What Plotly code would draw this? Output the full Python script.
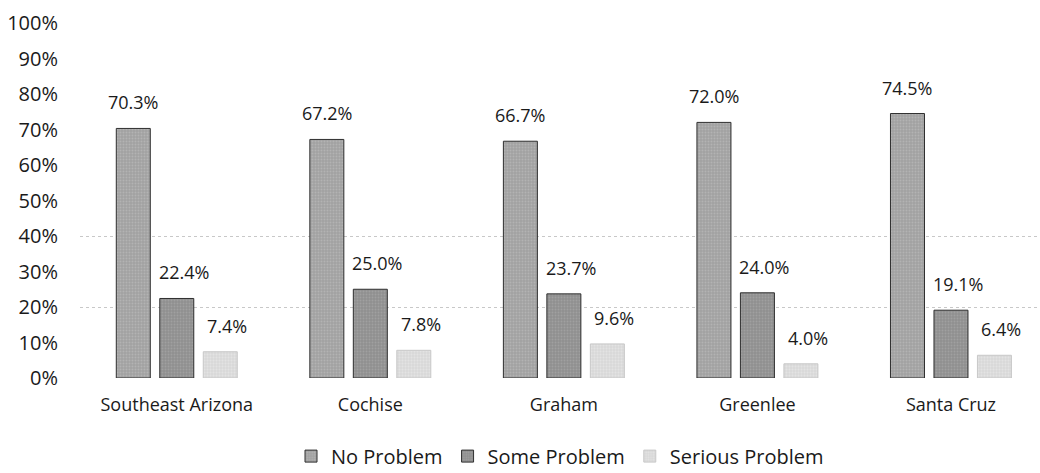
import plotly.graph_objects as go

categories = ["Southeast Arizona", "Cochise", "Graham", "Greenlee", "Santa Cruz"]
no_problem = [70.3, 67.2, 66.7, 72.0, 74.5]
some_problem = [22.4, 25.0, 23.7, 24.0, 19.1]
serious_problem = [7.4, 7.8, 9.6, 4.0, 6.4]
series_names = ["No Problem", "Some Problem", "Serious Problem"]
tick_vals = [0, 10, 20, 30, 40, 50, 60, 70, 80, 90, 100]
tick_text = [f"{v}%" for v in tick_vals]
grid_vals = [20, 40]

fills = ["#a2a2a2", "#909090", "#d9d9d9"]
outlines = ["#2e2e2e", "#2e2e2e", "#c8c8c8"]
pattern_fg = ["#c4c4c4", "#b0b0b0", "#eeeeee"]
label_xshift = [0, 7, 7]

L, R, T, B = 80, 0, 23, 95
W, H = 1040, 473
x_range = [-0.5, 4.46]
bargap, bargroupgap = 0.326, 0.218
unit_px = (W - L - R) / (x_range[1] - x_range[0])
slot_px = unit_px * (1 - bargap) / 3

fig = go.Figure()
# carrier for the faint dotted gridlines (only those visible in the reference)
fig.add_trace(go.Scatter(x=[categories[0]], y=[None], yaxis="y2", showlegend=False,
                         hoverinfo="skip", mode="markers"))

series_vals = [no_problem, some_problem, serious_problem]
for i, (name, vals) in enumerate(zip(series_names, series_vals)):
    fig.add_trace(go.Bar(
        x=categories, y=vals, name=name,
        marker=dict(color=fills[i], line=dict(color=outlines[i], width=1),
                    pattern=dict(shape=".", fgcolor=pattern_fg[i], size=3, solidity=0.3)),
    ))
    for c, v in zip(categories, vals):
        fig.add_annotation(
            x=c, y=v, text=f"{v:.1f}%", showarrow=False,
            xanchor="center", yanchor="bottom",
            xshift=(i - 1) * slot_px + label_xshift[i], yshift=12,
            font=dict(size=18, color="#1a1a1a", family="Open Sans"),
        )

fig.update_layout(
    width=W, height=H,
    margin=dict(l=L, r=R, t=T, b=B, autoexpand=False),
    paper_bgcolor="white", plot_bgcolor="white",
    barmode="group", bargap=bargap, bargroupgap=bargroupgap,
    font=dict(family="Open Sans", size=18, color="#1a1a1a"),
    showlegend=True,
    legend=dict(orientation="h", x=0.5, xanchor="center", y=-0.22, yanchor="middle",
                font=dict(size=20), traceorder="normal", itemwidth=30),
    xaxis=dict(type="category", categoryorder="array", categoryarray=categories,
               showgrid=False, showline=False, ticks="", tickfont=dict(size=18),
               range=x_range, automargin=False, ticklabelstandoff=14),
    yaxis=dict(range=[0, 100], tickvals=tick_vals, ticktext=tick_text,
               showgrid=False, zeroline=False, showline=False, ticks="",
               tickfont=dict(size=20), ticklabelstandoff=21, automargin=False),
    yaxis2=dict(range=[0, 100], overlaying="y", tickvals=grid_vals, showticklabels=False,
                showgrid=True, gridcolor="#c8c8c8", griddash="dot", gridwidth=1,
                zeroline=False, showline=False, ticks="", automargin=False),
)

fig.write_html("out.html", config={"displayModeBar": False})

# remove the browser's default 8px page margin so the figure fills the window
with open("out.html", "r", encoding="utf-8") as f:
    html = f.read()
html = html.replace("<body>", '<body style="margin:0;padding:0;overflow:hidden">', 1)
with open("out.html", "w", encoding="utf-8") as f:
    f.write(html)
